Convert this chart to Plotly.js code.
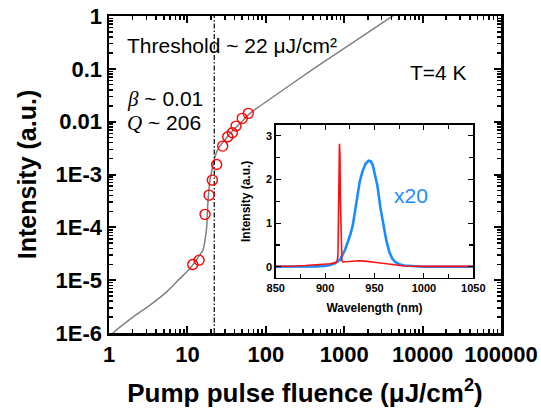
<!DOCTYPE html>
<html>
<head>
<meta charset="utf-8">
<script src="https://cdn.plot.ly/plotly-3.0.1.min.js"></script>
<style>html,body{margin:0;padding:0;background:#fff;}#chart{width:541px;height:416px;}</style>
</head>
<body>
<div id="chart"></div>
<script>
// ---- main panel data ----
const fluence = [11.7, 14.1, 16.8, 18.9, 20.8, 23.6, 28.2, 32.7, 37.4, 41.7, 50.1, 59.8];
const intensity = [1.98e-5, 2.39e-5, 1.76e-4, 4.07e-4, 7.83e-4, 1.55e-3, 3.45e-3, 5.18e-3, 6.16e-3, 8.25e-3, 1.155e-2, 1.436e-2];

const fitFluence = [1.0, 1.19, 2.04, 3.33, 5.44, 8.05, 10.79, 13.5, 15.77, 16.77, 17.63, 17.95, 18.48, 19.42, 21.02, 22.49, 24.79, 28.7, 34.9, 46.9, 62.9, 84.3, 446, 4036, 10000];
const fitIntensity = [8.5e-7, 1.08e-6, 2.02e-6, 3.36e-6, 6.0e-6, 1.08e-5, 1.67e-5, 2.6e-5, 3.7e-5, 5.72e-5, 1.02e-4, 1.83e-4, 3.78e-4, 7.83e-4, 1.40e-3, 2.16e-3, 3.12e-3, 4.16e-3, 6.0e-3, 9.29e-3, 1.436e-2, 1.98e-2, 0.1096, 0.97, 2.4];

const threshold = 22;

const xTickVals = [1, 10, 100, 1000, 10000, 100000];
const xTickText = ['1', '10', '100', '1000', '10000', '100000'];
const yTickVals = [1e-6, 1e-5, 1e-4, 1e-3, 1e-2, 1e-1, 1];
const yTickText = ['1E-6', '1E-5', '1E-4', '1E-3', '0.01', '0.1', '1'];

// ---- inset spectra ----
const redWl = [850, 860, 870, 880, 890, 900, 905, 910, 912, 913, 913.8, 914.5, 915, 915.5, 916.2, 917, 918, 922, 928, 934, 940, 946, 952, 958, 964, 970, 976, 982, 990, 1000, 1010, 1020, 1030, 1040, 1050];
const redI = [0.01, 0.01, 0.02, 0.03, 0.04, 0.06, 0.07, 0.09, 0.12, 0.25, 1.6, 2.82, 2.6, 1.5, 0.4, 0.14, 0.11, 0.12, 0.13, 0.14, 0.13, 0.12, 0.10, 0.08, 0.06, 0.04, 0.03, 0.02, 0.01, 0.01, 0.01, 0.01, 0.01, 0.01, 0.01];

const blueWl = [850, 870, 890, 900, 905, 910, 915, 920, 925, 928, 931, 935, 938, 941, 944, 946, 948, 951, 953, 956, 959, 962, 965, 968, 971, 975, 980, 990, 1000, 1050];
const blueI = [0.0, 0.0, 0.01, 0.02, 0.04, 0.08, 0.16, 0.38, 0.7, 0.95, 1.4, 1.95, 2.2, 2.36, 2.43, 2.42, 2.35, 2.08, 1.85, 1.35, 0.95, 0.6, 0.34, 0.19, 0.11, 0.06, 0.03, 0.01, 0.0, 0.0];

const insetXTicks = [850, 900, 950, 1000, 1050];
const insetYTicks = [0, 1, 2, 3];

// minor tick positions for log axes (axis decoration only)
function logMinor(d0, d1) {
  const v = [];
  for (let d = d0; d < d1; d++) for (let k = 2; k <= 9; k++) v.push(k * Math.pow(10, d));
  return v;
}

const SANS = 'Liberation Sans, Arial, sans-serif';
const BLUE = '#1a8cff';

const traces = [
  {x: fitFluence, y: fitIntensity, type: 'scatter', mode: 'lines',
   line: {color: '#808080', width: 1.5, shape: 'spline', smoothing: 0.7}, xaxis: 'x', yaxis: 'y', hoverinfo: 'skip'},
  {x: [threshold, threshold], y: [1e-6, 1], type: 'scatter', mode: 'lines',
   line: {color: '#000', width: 1.2, dash: '5px,2px,1.5px,2px'}, xaxis: 'x', yaxis: 'y'},
  {x: fluence, y: intensity, type: 'scatter', mode: 'markers',
   marker: {symbol: 'circle-open', size: 10, color: '#ff0000', line: {width: 1.4, color: '#ff0000'}},
   xaxis: 'x', yaxis: 'y', cliponaxis: false},
  {x: blueWl, y: blueI, type: 'scatter', mode: 'lines', line: {color: BLUE, width: 2.6},
   xaxis: 'x2', yaxis: 'y2'},
  {x: redWl, y: redI, type: 'scatter', mode: 'lines', line: {color: '#ff1010', width: 1.6},
   xaxis: 'x2', yaxis: 'y2'}
];

const mainAxisCommon = {
  type: 'log', showgrid: false, zeroline: false, showline: true, linecolor: '#000', linewidth: 2.5,
  mirror: 'allticks', ticks: 'inside', ticklen: 7, tickwidth: 2, tickcolor: '#000',
  tickmode: 'array',
  tickfont: {family: SANS, size: 22, color: '#000', weight: 'bold'}
};

const insetAxisCommon = {
  showgrid: false, zeroline: false, showline: true, linecolor: '#000', linewidth: 1.5,
  mirror: 'allticks', ticks: 'inside', ticklen: 5, tickwidth: 1.2, tickcolor: '#000',
  tickmode: 'array',
  tickfont: {family: SANS, size: 11, color: '#000', weight: 'bold'}
};

const layout = {
  width: 541, height: 416,
  margin: {l: 109, r: 40, t: 16, b: 83, pad: 0},
  paper_bgcolor: '#fff', plot_bgcolor: '#fff',
  showlegend: false,
  font: {family: SANS, color: '#000'},
  xaxis: Object.assign({}, mainAxisCommon, {
    domain: [0, 1], range: [0, 5], anchor: 'y',
    tickvals: xTickVals, ticktext: xTickText,
    minor: {ticks: 'inside', ticklen: 4, tickwidth: 1.5, tickcolor: '#000', tickmode: 'array', tickvals: logMinor(0, 5)},
    title: {text: 'Pump pulse fluence (μJ/cm<sup>2</sup>)', standoff: 18,
            font: {family: SANS, size: 26, color: '#000', weight: 'bold'}}
  }),
  yaxis: Object.assign({}, mainAxisCommon, {
    domain: [0, 1], range: [-6, 0], anchor: 'x',
    tickvals: yTickVals, ticktext: yTickText,
    minor: {ticks: 'inside', ticklen: 4, tickwidth: 1.5, tickcolor: '#000', tickmode: 'array', tickvals: logMinor(-6, 0)},
    title: {text: 'Intensity (a.u.)', standoff: 12,
            font: {family: SANS, size: 25, color: '#000', weight: 'bold'}}
  }),
  xaxis2: Object.assign({}, insetAxisCommon, {
    domain: [0.4253, 0.9293], range: [850, 1050], anchor: 'y2',
    tickvals: insetXTicks,
    minor: {ticks: 'inside', ticklen: 4, tickwidth: 1.2, tickcolor: '#000', dtick: 25, tick0: 850},
    title: {text: 'Wavelength (nm)', standoff: 10,
            font: {family: SANS, size: 12, color: '#000', weight: 'bold'}}
  }),
  yaxis2: Object.assign({}, insetAxisCommon, {
    domain: [0.1744, 0.6562], range: [-0.25, 3.25], anchor: 'x2',
    tickvals: insetYTicks,
    minor: {ticks: 'inside', ticklen: 4, tickwidth: 1.2, tickcolor: '#000', dtick: 0.5, tick0: 0},
    title: {text: 'Intensity (a.u.)', standoff: 12,
            font: {family: SANS, size: 12, color: '#000', weight: 'bold'}}
  }),
  annotations: [
    {text: 'Threshold ~ 22 μJ/cm²', xref: 'paper', yref: 'paper', x: 0.0408, y: 0.9085,
     xanchor: 'left', yanchor: 'middle', showarrow: false, font: {family: SANS, size: 21, color: '#000'}},
    {text: 'T=4 K', xref: 'paper', yref: 'paper', x: 0.7635, y: 0.8218,
     xanchor: 'left', yanchor: 'middle', showarrow: false, font: {family: SANS, size: 21, color: '#000'}},
    {text: '<span style="font-family:Liberation Serif"><i>β</i></span> ~ 0.01', xref: 'paper', yref: 'paper', x: 0.0408, y: 0.738,
     xanchor: 'left', yanchor: 'middle', showarrow: false, font: {family: SANS, size: 21, color: '#000'}},
    {text: '<span style="font-family:Liberation Serif"><i>Q</i></span> ~ 206', xref: 'paper', yref: 'paper', x: 0.0408, y: 0.664,
     xanchor: 'left', yanchor: 'middle', showarrow: false, font: {family: SANS, size: 21, color: '#000'}},
    {text: 'x20', xref: 'paper', yref: 'paper', x: 0.7212, y: 0.4322,
     xanchor: 'left', yanchor: 'middle', showarrow: false, font: {family: SANS, size: 21, color: BLUE}}
  ]
};

Plotly.newPlot('chart', traces, layout, {displayModeBar: false, staticPlot: true});
</script>
</body>
</html>
